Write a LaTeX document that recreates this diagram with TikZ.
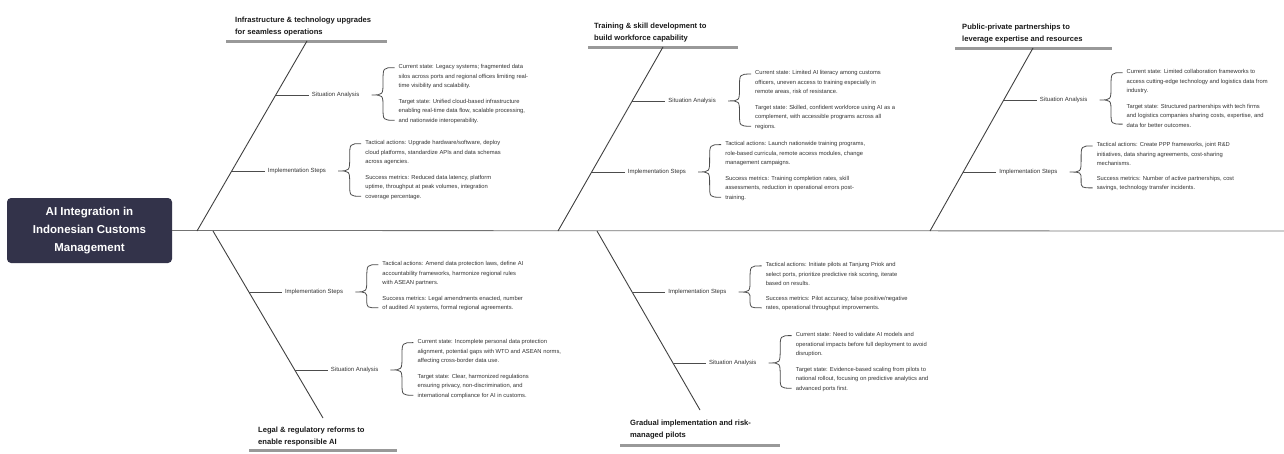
\documentclass[tikz,border=0pt]{standalone}
\usepackage{fontspec}
\setmainfont{Liberation Sans}
\usetikzlibrary{positioning,calc}

\begin{document}
\begin{tikzpicture}[x=1pt, y=-1pt,
    title/.style={fill=black!85!blue!60!gray, rounded corners=4pt, text=white, align=center,
        minimum width=165pt, minimum height=65pt, inner sep=2pt,
        font=\fontsize{11.5}{18}\selectfont\bfseries},
    spine/.style={draw=black!55, line width=0.8pt},
    bone/.style={draw=black!75, line width=0.9pt},
    bar/.style={draw=black!40, line width=3pt},
    rib/.style={draw=black!70, line width=0.7pt},
    brc/.style={draw=black!70, line width=0.8pt},
    hdr/.style={anchor=south west, inner sep=0pt, align=left, text=black!90,
        font=\fontsize{7.6}{11.5}\selectfont\bfseries},
    lbl/.style={inner sep=3pt, text=black!80, font=\fontsize{6}{9.5}\selectfont},
    info/.style={inner sep=0pt, align=left, text=black!80, font=\fontsize{5.8}{9.5}\selectfont},
  ]
    \useasboundingbox (0,0) rectangle (1284,453);

    % Head and spine
    \node[title] (head) at (89.5,230.5) {AI Integration in\\Indonesian Customs\\Management};
    \coordinate (tail) at (1284,231);
    \draw[spine] (head.east) -- (tail);

    % Infrastructure & technology upgrades
    \coordinate (topA) at (307,41);
    \coordinate (spA) at (197,231);
    \draw[bar] ($(topA)+(-81,0)$) -- ($(topA)+(80,0)$);
    \node[hdr] (hdrA) at ($(topA)+(-72,-5)$) {Infrastructure \& technology upgrades\\for seamless operations};
    \draw[bone] (topA) -- (spA);
    \coordinate (saAj) at ($(topA)!0.284!(spA)$);
    \coordinate (isAj) at ($(topA)!0.684!(spA)$);
    \node[lbl, right=33pt of saAj] (saA) {Situation Analysis};
    \draw[rib] (saAj) -- (saA);
    \node[info, anchor=south west] (saA1) at ($(saA.east)+(36,-6)$) {Current state: Legacy systems; fragmented data\\silos across ports and regional offices limiting real-\\time visibility and scalability.};
    \node[info, anchor=north west] (saA2) at ($(saA.east)+(36,4)$) {Target state: Unified cloud-based infrastructure\\enabling real-time data flow, scalable processing,\\and nationwide interoperability.};
    \node[lbl, right=33pt of isAj] (isA) {Implementation Steps};
    \draw[rib] (isAj) -- (isA);
    \node[info, anchor=south west] (isA1) at ($(isA.east)+(36,-6)$) {Tactical actions: Upgrade hardware/software, deploy\\cloud platforms, standardize APIs and data schemas\\across agencies.};
    \node[info, anchor=north west] (isA2) at ($(isA.east)+(36,4)$) {Success metrics: Reduced data latency, platform\\uptime, throughput at peak volumes, integration\\coverage percentage.};

    % Training & skill development
    \coordinate (topB) at (663,47);
    \coordinate (spB) at (558,231);
    \draw[bar] ($(topB)+(-75,0)$) -- ($(topB)+(75,0)$);
    \node[hdr] (hdrB) at ($(topB)+(-69,-5)$) {Training \& skill development to\\build workforce capability};
    \draw[bone] (topB) -- (spB);
    \coordinate (saBj) at ($(topB)!0.293!(spB)$);
    \coordinate (isBj) at ($(topB)!0.679!(spB)$);
    \node[lbl, right=33pt of saBj] (saB) {Situation Analysis};
    \draw[rib] (saBj) -- (saB);
    \node[info, anchor=south west] (saB1) at ($(saB.east)+(36,-6)$) {Current state: Limited AI literacy among customs\\officers, uneven access to training especially in\\remote areas, risk of resistance.};
    \node[info, anchor=north west] (saB2) at ($(saB.east)+(36,4)$) {Target state: Skilled, confident workforce using AI as a\\complement, with accessible programs across all\\regions.};
    \node[lbl, right=33pt of isBj] (isB) {Implementation Steps};
    \draw[rib] (isBj) -- (isB);
    \node[info, anchor=south west] (isB1) at ($(isB.east)+(36,-6)$) {Tactical actions: Launch nationwide training programs,\\role-based curricula, remote access modules, change\\management campaigns.};
    \node[info, anchor=north west] (isB2) at ($(isB.east)+(36,4)$) {Success metrics: Training completion rates, skill\\assessments, reduction in operational errors post-\\training.};

    % Public-private partnerships
    \coordinate (topC) at (1033,48);
    \coordinate (spC) at (930,231);
    \draw[bar] ($(topC)+(-78,0)$) -- ($(topC)+(79,0)$);
    \node[hdr] (hdrC) at ($(topC)+(-71,-5)$) {Public-private partnerships to\\leverage expertise and resources};
    \draw[bone] (topC) -- (spC);
    \coordinate (saCj) at ($(topC)!0.284!(spC)$);
    \coordinate (isCj) at ($(topC)!0.678!(spC)$);
    \node[lbl, right=33pt of saCj] (saC) {Situation Analysis};
    \draw[rib] (saCj) -- (saC);
    \node[info, anchor=south west] (saC1) at ($(saC.east)+(36,-6)$) {Current state: Limited collaboration frameworks to\\access cutting-edge technology and logistics data from\\industry.};
    \node[info, anchor=north west] (saC2) at ($(saC.east)+(36,4)$) {Target state: Structured partnerships with tech firms\\and logistics companies sharing costs, expertise, and\\data for better outcomes.};
    \node[lbl, right=33pt of isCj] (isC) {Implementation Steps};
    \draw[rib] (isCj) -- (isC);
    \node[info, anchor=south west] (isC1) at ($(isC.east)+(36,-6)$) {Tactical actions: Create PPP frameworks, joint R\&D\\initiatives, data sharing agreements, cost-sharing\\mechanisms.};
    \node[info, anchor=north west] (isC2) at ($(isC.east)+(36,4)$) {Success metrics: Number of active partnerships, cost\\savings, technology transfer incidents.};

    % Legal & regulatory reforms
    \coordinate (spD) at (213,231);
    \coordinate (botD) at (323,418);
    \draw[bar] ($(botD)+(-74,32)$) -- ($(botD)+(74,32)$);
    \node[hdr] (hdrD) at ($(botD)+(-65,28)$) {Legal \& regulatory reforms to\\enable responsible AI};
    \draw[bone] (spD) -- (botD);
    \coordinate (isDj) at ($(spD)!0.326!(botD)$);
    \coordinate (saDj) at ($(spD)!0.743!(botD)$);
    \node[lbl, right=33pt of isDj] (isD) {Implementation Steps};
    \draw[rib] (isDj) -- (isD);
    \node[info, anchor=south west] (isD1) at ($(isD.east)+(36,-6)$) {Tactical actions: Amend data protection laws, define AI\\accountability frameworks, harmonize regional rules\\with ASEAN partners.};
    \node[info, anchor=north west] (isD2) at ($(isD.east)+(36,4)$) {Success metrics: Legal amendments enacted, number\\of audited AI systems, formal regional agreements.};
    \node[lbl, right=33pt of saDj] (saD) {Situation Analysis};
    \draw[rib] (saDj) -- (saD);
    \node[info, anchor=south west] (saD1) at ($(saD.east)+(36,-6)$) {Current state: Incomplete personal data protection\\alignment, potential gaps with WTO and ASEAN norms,\\affecting cross-border data use.};
    \node[info, anchor=north west] (saD2) at ($(saD.east)+(36,4)$) {Target state: Clear, harmonized regulations\\ensuring privacy, non-discrimination, and\\international compliance for AI in customs.};

    % Gradual implementation
    \coordinate (spE) at (597,231);
    \coordinate (botE) at (700,410);
    \draw[bar] ($(botE)+(-80,35)$) -- ($(botE)+(80,35)$);
    \node[hdr] (hdrE) at ($(botE)+(-70,29)$) {Gradual implementation and risk-\\managed pilots};
    \draw[bone] (spE) -- (botE);
    \coordinate (isEj) at ($(spE)!0.341!(botE)$);
    \coordinate (saEj) at ($(spE)!0.737!(botE)$);
    \node[lbl, right=33pt of isEj] (isE) {Implementation Steps};
    \draw[rib] (isEj) -- (isE);
    \node[info, anchor=south west] (isE1) at ($(isE.east)+(36,-6)$) {Tactical actions: Initiate pilots at Tanjung Priok and\\select ports, prioritize predictive risk scoring, iterate\\based on results.};
    \node[info, anchor=north west] (isE2) at ($(isE.east)+(36,4)$) {Success metrics: Pilot accuracy, false positive/negative\\rates, operational throughput improvements.};
    \node[lbl, right=33pt of saEj] (saE) {Situation Analysis};
    \draw[rib] (saEj) -- (saE);
    \node[info, anchor=south west] (saE1) at ($(saE.east)+(36,-6)$) {Current state: Need to validate AI models and\\operational impacts before full deployment to avoid\\disruption.};
    \node[info, anchor=north west] (saE2) at ($(saE.east)+(36,4)$) {Target state: Evidence-based scaling from pilots to\\national rollout, focusing on predictive analytics and\\advanced ports first.};

    % Curly braces from each label to its two texts
    \foreach \g in {saA,isA,saB,isB,saC,isC,saD,isD,saE,isE}
      \draw[brc] let \p1=($(\g.east)+(9,0)$), \p2=($(\g1.north west)+(-4,3.5)$),
          \p3=($(\g2.south west)+(-4,-3.5)$), \n1={(\x1+\x2)/2} in
        (\p2) .. controls (\n1,\y2) .. (\n1,{(\y1+\y2)/2}) .. controls (\n1,\y1) .. (\p1)
        .. controls (\n1,\y1) .. (\n1,{(\y1+\y3)/2}) .. controls (\n1,\y3) .. (\p3);
\end{tikzpicture}
\end{document}
